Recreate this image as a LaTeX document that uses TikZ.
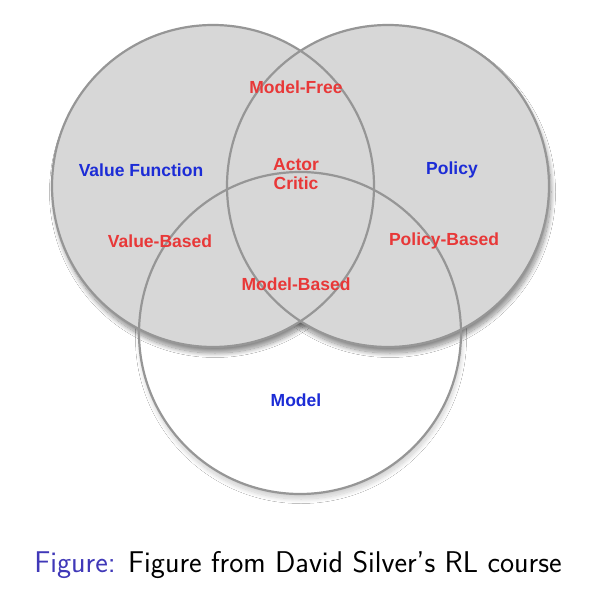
\documentclass[tikz,border=0pt]{standalone}
\usepackage{fontspec}
\newfontfamily\labfont{Liberation Sans}
\usetikzlibrary{shadows.blur}
\definecolor{ringgray}{RGB}{150,150,150}
\definecolor{fillgray}{RGB}{215,215,215}
\definecolor{labred}{RGB}{232,56,56}
\definecolor{labblue}{RGB}{28,44,214}
\definecolor{capblue}{RGB}{64,56,184}
\begin{document}
\begin{tikzpicture}[x=1pt,y=-1pt,
  ring/.style={circle, inner sep=0pt, minimum size=322pt},
  shadowed/.style={blur shadow={shadow xshift=2pt, shadow yshift=-6pt, shadow blur radius=4.5pt, shadow blur steps=16, shadow opacity=45}},
  lightshadow/.style={blur shadow={shadow xshift=1pt, shadow yshift=-5pt, shadow blur radius=4.5pt, shadow blur steps=16, shadow opacity=20}},
  outline/.style={draw=ringgray, line width=2.2pt},
  redlab/.style={text=labred, font=\labfont\bfseries\fontsize{17.5}{21}\selectfont, align=center, inner sep=0pt},
  bluelab/.style={text=labblue, font=\labfont\bfseries\fontsize{17.5}{21}\selectfont, inner sep=0pt}]
\useasboundingbox (0,0) rectangle (599,593);
\fill[white] (0,0) rectangle (599,593);
% model circle
\node[ring, fill=white, lightshadow] (M) at (300,333) {};
% top circles: shadows then fills
\node[ring, fill=fillgray, shadowed] (Lsh) at (213,186) {};
\node[ring, fill=fillgray, shadowed] (Rsh) at (388,186) {};
\node[ring, fill=fillgray] (L) at (213,186) {};
\node[ring, fill=fillgray] (R) at (388,186) {};
% outlines
\node[ring, outline] (Lo) at (L) {};
\node[ring, outline] (Ro) at (R) {};
\node[ring, outline] (Mo) at (M) {};
% labels
\node[redlab] (mf) at (296,87) {Model-Free};
\node[redlab] (ac) at (296,174) {Actor\\[-2pt]Critic};
\node[bluelab] (vf) at (141,170) {Value Function};
\node[bluelab] (po) at (452,170) {Policy};
\node[redlab] (vb) at (160,241) {Value-Based};
\node[redlab] (pb) at (444,241) {Policy-Based};
\node[redlab] (mb) at (296,284) {Model-Based};
\node[bluelab] (mo) at (296,400) {Model};
% caption
\node[anchor=base, inner sep=0pt, font=\sffamily\fontsize{30}{36}\selectfont] (cap) at (298,572) {\textcolor{capblue}{Figure:} Figure from David Silver's RL course};
\end{tikzpicture}
\end{document}
